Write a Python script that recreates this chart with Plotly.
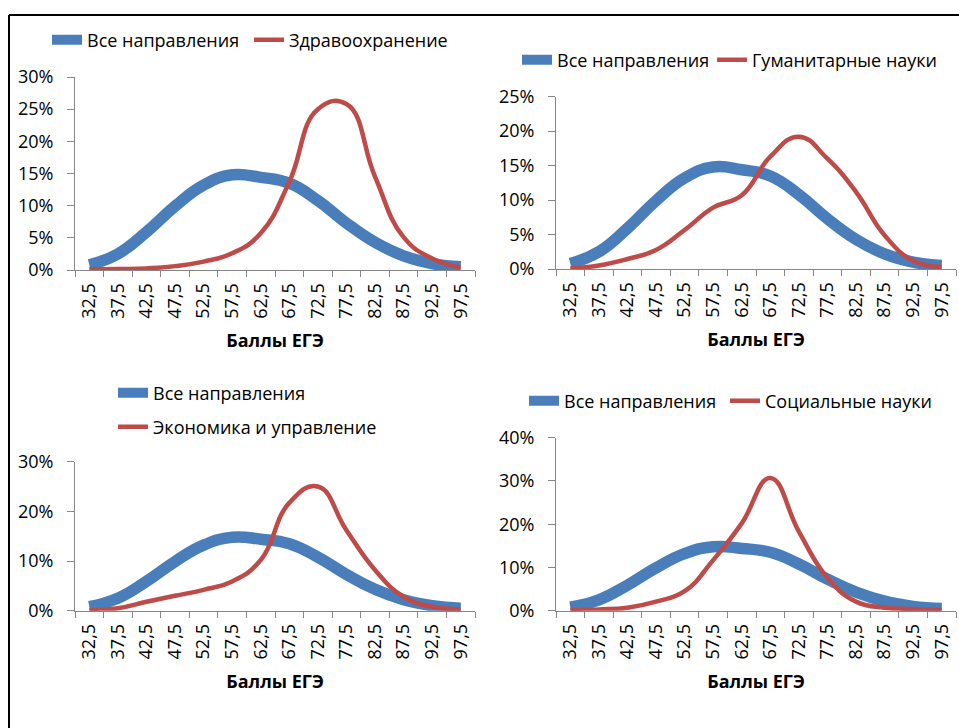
import plotly.graph_objects as go

W, H = 959, 728

categories = ["32,5", "37,5", "42,5", "47,5", "52,5", "57,5", "62,5",
              "67,5", "72,5", "77,5", "82,5", "87,5", "92,5", "97,5"]

all_directions = [0.8, 2.5, 5.9, 9.9, 13.2, 14.8, 14.4, 13.5, 10.8, 7.3, 4.3, 2.2, 1.0, 0.5]
healthcare = [0.1, 0.15, 0.25, 0.6, 1.3, 2.6, 5.7, 13.7, 25.0, 25.8, 14.5, 5.1, 1.8, 0.4]
humanities = [0.1, 0.5, 1.45, 2.75, 5.65, 8.9, 10.7, 16.3, 19.2, 16.0, 11.2, 4.9, 1.2, 0.3]
economics = [0.1, 0.5, 1.8, 3.0, 4.2, 5.9, 10.2, 21.7, 25.0, 16.2, 8.2, 2.8, 0.8, 0.3]
social = [0.15, 0.3, 0.7, 2.1, 4.5, 11.7, 20.2, 30.7, 18.3, 7.6, 2.1, 0.7, 0.4, 0.2]

names = ["Здравоохранение", "Гуманитарные науки", "Экономика и управление", "Социальные науки"]
series = [healthcare, humanities, economics, social]
y_max = [30, 25, 30, 40]
y_step = [5, 5, 10, 10]

all_name = "Все направления"
x_title = "Баллы ЕГЭ"

BLUE = "#4A7EBB"
RED = "#BE4B48"
AXIS = "#868686"
FONT = "Open Sans"

# pixel geometry of the four plot areas: (x0, x1, y_bottom, y_top)
boxes = [(75, 475, 270, 77), (556, 956, 269, 96.7),
         (75, 475, 610.7, 461.7), (556, 956, 610.7, 437.7)]
# legend placement per panel: (blue_x, blue_y, red_x, red_y)
legend_pos = [(52, 40, 254, 40), (522, 60, 717, 60),
              (118, 393, 118, 427), (529, 401, 730, 401)]

fig = go.Figure()
layout = dict(width=W, height=H, margin=dict(l=0, r=0, t=0, b=0, pad=0, autoexpand=False),
              paper_bgcolor="white", plot_bgcolor="white",
              font=dict(family=FONT, size=18, color="black"), showlegend=True)

for k in range(4):
    sfx = "" if k == 0 else str(k + 1)
    xa, ya = "x" + sfx, "y" + sfx
    lb = "legend" + ("" if k == 0 else str(2 * k + 1))
    lr = "legend" + str(2 * k + 2)
    fig.add_trace(go.Scatter(x=categories, y=all_directions, name=all_name, mode="lines",
                             line=dict(color=BLUE, width=11.5, shape="spline", smoothing=1.3),
                             xaxis=xa, yaxis=ya, legend=lb, hoverinfo="skip"))
    fig.add_trace(go.Scatter(x=categories, y=series[k], name=names[k], mode="lines",
                             line=dict(color=RED, width=4.5, shape="spline", smoothing=1.3),
                             xaxis=xa, yaxis=ya, legend=lr, hoverinfo="skip"))
    x0, x1, yb, yt = boxes[k]
    layout["xaxis" + sfx] = dict(
        domain=[x0 / W, x1 / W], anchor=ya, type="category", range=[-0.5, 13.5],
        showline=True, linecolor=AXIS, linewidth=1, ticks="outside", tickson="boundaries",
        ticklen=6, tickcolor=AXIS, tickangle=-90, showgrid=False, zeroline=False,
        automargin=False, ticklabelstandoff=5,
        tickfont=dict(family=FONT, size=18, color="black"),
        title=dict(text="<b>" + x_title + "</b>", standoff=16,
                   font=dict(family=FONT, size=18, color="black")))
    layout["yaxis" + sfx] = dict(
        domain=[1 - yb / H, 1 - yt / H], anchor=xa, range=[0, y_max[k]],
        tick0=0, dtick=y_step[k], ticksuffix="%", showline=True, linecolor=AXIS,
        linewidth=1, ticks="outside", ticklen=7, tickcolor=AXIS, showgrid=False,
        zeroline=False, automargin=False, ticklabelstandoff=10,
        tickfont=dict(family=FONT, size=18, color="black"))
    bx, by, rx, ry = legend_pos[k]
    for name_l, lx, ly in ((lb, bx, by), (lr, rx, ry)):
        layout[name_l] = dict(x=(lx - 5) / W, y=1 - ly / H, xanchor="left", yanchor="middle",
                              orientation="h", itemwidth=30, bgcolor="rgba(0,0,0,0)",
                              borderwidth=0, font=dict(family=FONT, size=18, color="black"),
                              itemclick=False, itemdoubleclick=False)

layout["shapes"] = [
    dict(type="line", xref="paper", yref="paper", x0=9 / W, x1=1, y0=1 - 15 / H, y1=1 - 15 / H,
         line=dict(color="black", width=2)),
    dict(type="line", xref="paper", yref="paper", x0=9 / W, x1=9 / W, y0=0, y1=1 - 15 / H,
         line=dict(color="black", width=2)),
]

fig.update_layout(**layout)
fig.write_html("out.html", config={"displayModeBar": False, "staticPlot": True},
               post_script="document.body.style.margin='0';document.body.style.overflow='hidden';")
